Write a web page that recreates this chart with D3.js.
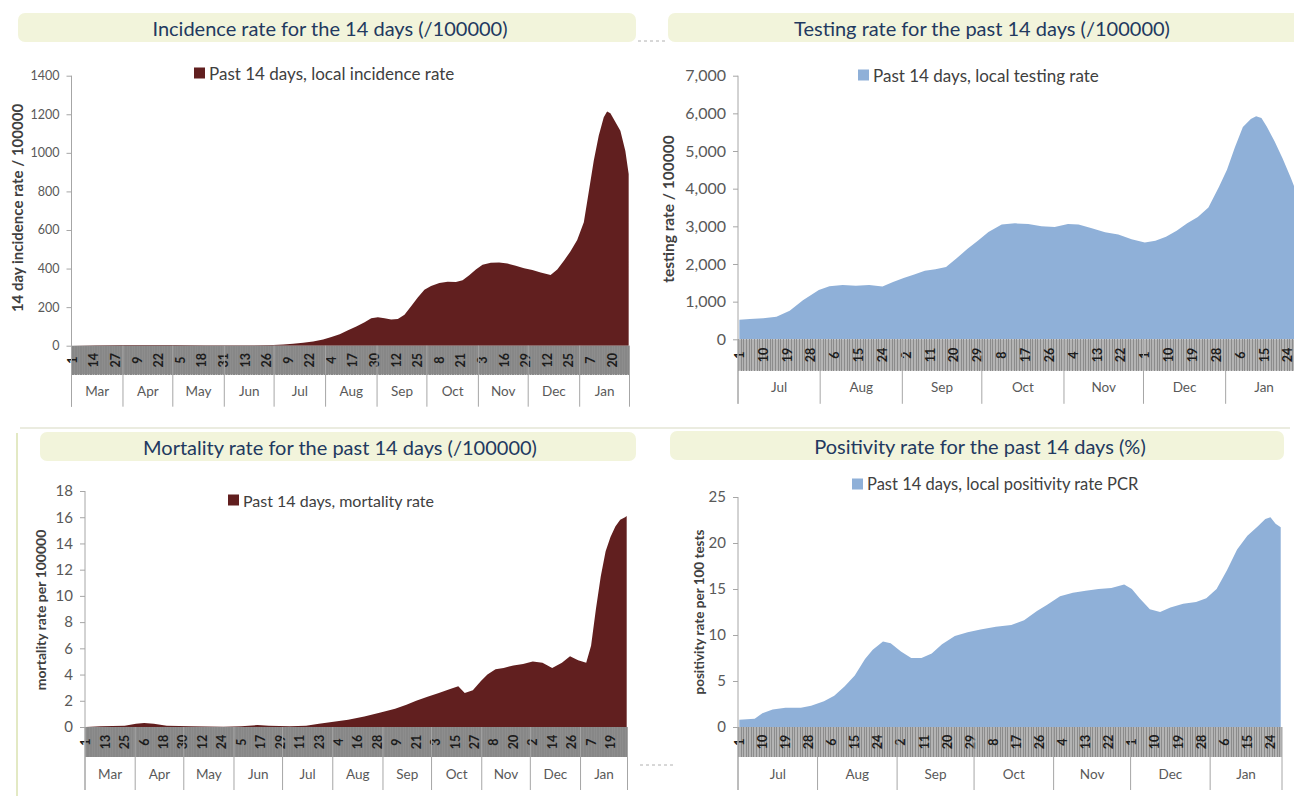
<!DOCTYPE html>
<html>
<head>
<meta charset="utf-8">
<script src="https://cdn.jsdelivr.net/npm/d3@7"></script>
<style>
  body { margin: 0; background: #fff; }
  svg { display: block; font-family: Lato, "Open Sans", sans-serif; }
</style>
</head>
<body>
<script>
const parse = d3.utcParse("%Y-%m-%d");

// ---- data ----
const incidenceDates = ["2020-03-01","2020-03-15","2020-04-01","2020-04-15","2020-05-01","2020-05-20","2020-06-10","2020-06-30",
  "2020-07-06","2020-07-12","2020-07-18","2020-07-24","2020-07-30","2020-08-04","2020-08-09","2020-08-14","2020-08-19","2020-08-24",
  "2020-08-28","2020-09-01","2020-09-05","2020-09-09","2020-09-13","2020-09-17","2020-09-21","2020-09-25","2020-09-29","2020-10-03",
  "2020-10-08","2020-10-13","2020-10-18","2020-10-22","2020-10-26","2020-10-30","2020-11-03","2020-11-08","2020-11-13","2020-11-18",
  "2020-11-23","2020-11-28","2020-12-03","2020-12-08","2020-12-14","2020-12-18","2020-12-22","2020-12-26","2020-12-30","2021-01-03",
  "2021-01-06","2021-01-09","2021-01-12","2021-01-15","2021-01-17","2021-01-19","2021-01-22","2021-01-25","2021-01-28","2021-01-30"];
const incidenceValues = [0,2,4,4,3,2,2,4,
  6,10,15,22,32,45,60,80,100,122,
  142,148,142,136,138,160,205,250,290,310,
  325,332,330,340,365,395,420,430,432,426,
  415,402,392,380,366,395,440,490,548,640,
  800,960,1090,1185,1215,1205,1160,1115,1010,890];

const testingDates = ["2020-07-01","2020-07-05","2020-07-10","2020-07-15","2020-07-20","2020-07-25","2020-07-31","2020-08-04",
  "2020-08-09","2020-08-14","2020-08-19","2020-08-24","2020-08-28","2020-09-01","2020-09-05","2020-09-09","2020-09-13","2020-09-17",
  "2020-09-21","2020-09-25","2020-09-29","2020-10-03","2020-10-08","2020-10-13","2020-10-18","2020-10-23","2020-10-28","2020-11-02",
  "2020-11-06","2020-11-11","2020-11-16","2020-11-21","2020-11-26","2020-12-01","2020-12-05","2020-12-09","2020-12-13","2020-12-17",
  "2020-12-21","2020-12-25","2020-12-29","2021-01-01","2021-01-04","2021-01-07","2021-01-10","2021-01-12","2021-01-14","2021-01-16",
  "2021-01-19","2021-01-22","2021-01-25","2021-01-27","2021-01-29"];
const testingValues = [520,540,560,600,760,1040,1310,1410,
  1440,1420,1440,1400,1520,1630,1720,1820,1860,1920,
  2150,2400,2620,2850,3050,3080,3060,3000,2980,3060,
  3050,2950,2840,2780,2660,2570,2620,2720,2880,3080,
  3250,3500,4050,4500,5100,5640,5850,5920,5880,5650,
  5250,4800,4300,3950,3650];

const mortalityDates = ["2020-03-01","2020-03-10","2020-03-25","2020-04-01","2020-04-06","2020-04-12","2020-04-20","2020-05-05",
  "2020-05-25","2020-06-05","2020-06-15","2020-06-22","2020-07-05","2020-07-15","2020-07-23","2020-08-01","2020-08-10","2020-08-20",
  "2020-08-30","2020-09-08","2020-09-15","2020-09-21","2020-09-28","2020-10-05","2020-10-12","2020-10-17","2020-10-21","2020-10-26",
  "2020-10-31","2020-11-04","2020-11-09","2020-11-14","2020-11-20","2020-11-26","2020-12-02","2020-12-08","2020-12-14","2020-12-20",
  "2020-12-25","2020-12-30","2021-01-04","2021-01-07","2021-01-10","2021-01-13","2021-01-16","2021-01-19","2021-01-22","2021-01-25",
  "2021-01-28","2021-01-29"];
const mortalityValues = [0,0.05,0.1,0.25,0.3,0.25,0.1,0.05,
  0.02,0.05,0.15,0.1,0.05,0.1,0.25,0.4,0.55,0.8,
  1.1,1.4,1.7,2.0,2.3,2.6,2.9,3.1,2.6,2.8,
  3.5,4.0,4.4,4.5,4.7,4.8,5.0,4.9,4.5,4.9,
  5.4,5.1,4.9,6.2,9.0,11.5,13.4,14.5,15.3,15.8,
  16.0,16.1];

const positivityDates = ["2020-07-01","2020-07-07","2020-07-10","2020-07-14","2020-07-19","2020-07-25","2020-07-29","2020-08-03",
  "2020-08-07","2020-08-11","2020-08-15","2020-08-19","2020-08-22","2020-08-26","2020-08-29","2020-09-02","2020-09-06","2020-09-10",
  "2020-09-14","2020-09-18","2020-09-23","2020-09-28","2020-10-03","2020-10-09","2020-10-15","2020-10-20","2020-10-25","2020-10-29",
  "2020-11-03","2020-11-08","2020-11-13","2020-11-18","2020-11-23","2020-11-28","2020-12-01","2020-12-04","2020-12-08","2020-12-12",
  "2020-12-16","2020-12-21","2020-12-26","2020-12-30","2021-01-03","2021-01-07","2021-01-11","2021-01-15","2021-01-19","2021-01-22",
  "2021-01-24","2021-01-26","2021-01-28"];
const positivityValues = [0.8,0.9,1.5,1.9,2.1,2.1,2.3,2.8,
  3.4,4.4,5.6,7.4,8.4,9.3,9.1,8.2,7.5,7.5,
  8.0,9.0,9.9,10.3,10.6,10.9,11.1,11.6,12.6,13.3,
  14.2,14.6,14.8,15.0,15.1,15.5,15.0,14.0,12.8,12.5,
  13.0,13.4,13.6,14.0,15.0,17.0,19.3,20.8,21.8,22.6,
  22.8,22.1,21.7];

const incidenceTicks = [0, 200, 400, 600, 800, 1000, 1200, 1400];
const testingTicks = [0, 1000, 2000, 3000, 4000, 5000, 6000, 7000];
const mortalityTicks = [0, 2, 4, 6, 8, 10, 12, 14, 16, 18];
const positivityTicks = [0, 5, 10, 15, 20, 25];

const monthsMarJan = ["Mar", "Apr", "May", "Jun", "Jul", "Aug", "Sep", "Oct", "Nov", "Dec", "Jan"];
const monthsJulJan = ["Jul", "Aug", "Sep", "Oct", "Nov", "Dec", "Jan"];

const titles = ["Incidence rate for the 14 days  (/100000)", "Testing rate for the past 14 days (/100000)",
  "Mortality rate for the past 14 days (/100000)", "Positivity rate for the past 14 days (%)"];
const legends = ["Past 14 days, local incidence rate", "Past 14 days, local testing rate",
  "Past 14 days, mortality rate", "Past 14 days, local positivity rate PCR"];
const yTitles = ["14 day incidence rate / 100000", "testing rate / 100000",
  "mortality rate per 100000", "positivity rate per 100 tests"];

const width = 1294, height = 796;
const red = "#611f1f", blue = "#8fb0d8";

const svg = d3.select("body").append("svg")
  .attr("width", width)
  .attr("height", height);

// slide decorations
svg.append("line").attr("x1", 20).attr("x2", 1290).attr("y1", 428).attr("y2", 428)
  .attr("stroke", "#e4e6d6").attr("stroke-width", 1.5);
svg.append("line").attr("x1", 17).attr("x2", 17).attr("y1", 433).attr("y2", 796)
  .attr("stroke", "#e3e9c4").attr("stroke-width", 2);
svg.append("line").attr("x1", 638).attr("x2", 668).attr("y1", 41).attr("y2", 41)
  .attr("stroke", "#b0b0b0").attr("stroke-dasharray", "3,3");
svg.append("line").attr("x1", 640).attr("x2", 674).attr("y1", 765).attr("y2", 765)
  .attr("stroke", "#b0b0b0").attr("stroke-dasharray", "3,3");

function drawPanel(p) {
  const start = parse(p.start), end = parse(p.end);
  const x = d3.scaleUtc().domain([start, end]).range([p.left, p.right]);
  const y = d3.scaleLinear().domain([0, d3.max(p.yTicks)]).range([p.bottom, p.top]);
  const bandBottom = p.bottom + p.bandH;
  const monthBottom = bandBottom + p.monthH;
  const mid = d => d3.utcHour.offset(d, 12);
  const g = svg.append("g");

  // title banner
  g.append("rect")
    .attr("x", p.banner[0]).attr("y", p.banner[1])
    .attr("width", p.banner[2]).attr("height", 29)
    .attr("rx", 7)
    .attr("fill", "#f2f4db");
  g.append("text")
    .attr("x", p.titleX).attr("y", p.banner[1] + 15)
    .attr("text-anchor", "middle")
    .attr("dominant-baseline", "central")
    .attr("font-size", 20)
    .attr("fill", "#22395f")
    .text(p.title);

  // legend
  g.append("rect")
    .attr("x", p.legend[0]).attr("y", p.legend[1] - 5.5)
    .attr("width", 11).attr("height", 11)
    .attr("fill", p.color);
  g.append("text")
    .attr("x", p.legend[0] + 15).attr("y", p.legend[1])
    .attr("dominant-baseline", "central")
    .attr("font-size", p.legendFs)
    .attr("fill", "#404040")
    .text(p.legendText);

  // area
  const data = p.dates.map((d, i) => ({ date: mid(parse(d)), value: p.values[i] }));
  const area = d3.area()
    .x(d => x(d.date))
    .y0(y(0))
    .y1(d => y(d.value));
  g.append("path")
    .datum(data)
    .attr("fill", p.color)
    .attr("d", area);

  // grey category band with a tick per day
  g.append("rect")
    .attr("x", p.left).attr("y", p.bottom)
    .attr("width", p.right - p.left).attr("height", p.bandH)
    .attr("fill", p.bandFill);
  g.append("g").selectAll("line")
    .data(d3.utcDay.range(start, end))
    .join("line")
    .attr("x1", d => Math.round(x(d)) + 0.5)
    .attr("x2", d => Math.round(x(d)) + 0.5)
    .attr("y1", p.bottom).attr("y2", bandBottom)
    .attr("stroke", p.stripe)
    .attr("shape-rendering", "crispEdges");

  // day labels
  g.append("g").selectAll("text")
    .data(d3.utcDay.range(start, end, p.step))
    .join("text")
    .attr("transform", d => `translate(${x(mid(d))},${p.bottom + p.bandH / 2}) rotate(-90)`)
    .attr("text-anchor", "middle")
    .attr("dominant-baseline", "central")
    .attr("font-size", 12.5)
    .attr("font-weight", "bold")
    .attr("fill", "#1c1c1c")
    .text(d3.utcFormat("%-d"));

  // month separators + labels
  const months = d3.utcMonth.range(start, end);
  const bounds = months.concat([end]);
  g.append("g").selectAll("line")
    .data(bounds)
    .join("line")
    .attr("x1", d => x(d)).attr("x2", d => x(d))
    .attr("y1", p.bottom).attr("y2", monthBottom)
    .attr("stroke", "#a6a6a6");
  g.append("g").selectAll("text")
    .data(months)
    .join("text")
    .attr("x", (d, i) => (x(d) + x(bounds[i + 1])) / 2)
    .attr("y", bandBottom + p.monthH / 2)
    .attr("text-anchor", "middle")
    .attr("dominant-baseline", "central")
    .attr("font-size", 13.5)
    .attr("fill", "#595959")
    .text((d, i) => p.months[i]);

  // y axis
  g.append("g")
    .attr("transform", `translate(${p.left},0)`)
    .call(d3.axisLeft(y).tickValues(p.yTicks).tickFormat(p.fmt).tickSize(5).tickSizeOuter(0).tickPadding(7))
    .call(a => a.select(".domain").remove())
    .call(a => a.selectAll(".tick line").attr("stroke", "#a6a6a6"))
    .call(a => a.selectAll(".tick text")
      .attr("font-family", "Lato, sans-serif")
      .attr("font-size", p.tickFs)
      .attr("fill", "#595959"));
  g.append("line")
    .attr("x1", p.left).attr("x2", p.left)
    .attr("y1", p.top).attr("y2", monthBottom)
    .attr("stroke", "#a6a6a6");

  g.append("text")
    .attr("transform", `translate(${p.yTitle[0]},${p.yTitle[1]}) rotate(-90)`)
    .attr("text-anchor", "middle")
    .attr("dominant-baseline", "central")
    .attr("font-size", p.yTitleFs)
    .attr("font-weight", "bold")
    .attr("fill", "#404040")
    .text(p.yTitleText);
}

drawPanel({
  dates: incidenceDates, values: incidenceValues, color: red,
  start: "2020-03-01", end: "2021-01-31", step: 13, months: monthsMarJan,
  left: 71.5, right: 629.5, top: 75.7, bottom: 345.7, bandH: 29, monthH: 32,
  bandFill: "#8d8d8d", stripe: "#878787",
  yTicks: incidenceTicks, fmt: d3.format("d"), tickFs: 12.5,
  banner: [18, 13, 618], titleX: 330, title: titles[0],
  legend: [194, 73], legendFs: 17, legendText: legends[0],
  yTitle: [17, 208], yTitleFs: 15, yTitleText: yTitles[0]
});

drawPanel({
  dates: testingDates, values: testingValues, color: blue,
  start: "2020-07-01", end: "2021-01-30", step: 9, months: monthsJulJan,
  left: 738, right: 1302.5, top: 75.7, bottom: 339.3, bandH: 31.5, monthH: 33,
  bandFill: "#b4b4b4", stripe: "#8c8c8c",
  yTicks: testingTicks, fmt: d3.format(","), tickFs: 16,
  banner: [668, 13, 640], titleX: 982, title: titles[1],
  legend: [858, 75], legendFs: 17, legendText: legends[1],
  yTitle: [668, 209], yTitleFs: 15.5, yTitleText: yTitles[1]
});

drawPanel({
  dates: mortalityDates, values: mortalityValues, color: red,
  start: "2020-03-01", end: "2021-01-30", step: 12, months: monthsMarJan,
  left: 85, right: 627.5, top: 491, bottom: 727, bandH: 30, monthH: 33,
  bandFill: "#8d8d8d", stripe: "#878787",
  yTicks: mortalityTicks, fmt: d3.format("d"), tickFs: 15,
  banner: [40, 432, 596], titleX: 340, title: titles[2],
  legend: [228, 500], legendFs: 16, legendText: legends[2],
  yTitle: [40, 610], yTitleFs: 14, yTitleText: yTitles[2]
});

drawPanel({
  dates: positivityDates, values: positivityValues, color: blue,
  start: "2020-07-01", end: "2021-01-29", step: 9, months: monthsJulJan,
  left: 738, right: 1282, top: 497, bottom: 727, bandH: 30, monthH: 33,
  bandFill: "#b4b4b4", stripe: "#8c8c8c",
  yTicks: positivityTicks, fmt: d3.format("d"), tickFs: 15,
  banner: [670, 431, 614], titleX: 980, title: titles[3],
  legend: [852, 484], legendFs: 16.5, legendText: legends[3],
  yTitle: [699, 612], yTitleFs: 13.5, yTitleText: yTitles[3]
});
</script>
</body>
</html>
